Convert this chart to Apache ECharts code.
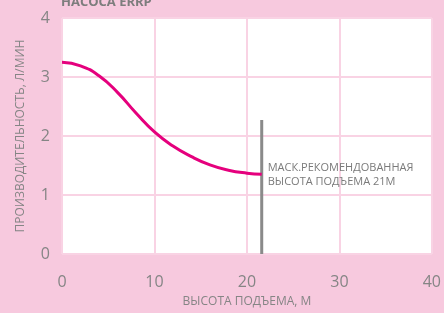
<!DOCTYPE html>
<html><head><meta charset="utf-8">
<script src="https://cdn.jsdelivr.net/npm/echarts@6/dist/echarts.min.js"></script>
<style>html,body{margin:0;padding:0;background:#f7c9de}#c{width:444px;height:313px}</style>
</head><body><div id="c"></div>
<script>
const heights = [0, 2, 4, 6, 8, 10, 12, 14, 16, 18, 20, 21.6];
const flow = [3.25, 3.19, 3.02, 2.74, 2.39, 2.07, 1.83, 1.65, 1.51, 1.42, 1.37, 1.35];
const maxHeight = 21.6;
const markerTop = 2.27;
const titleText = 'НАСОСА ERRP';
const xName = 'ВЫСОТА ПОДЪЕМА, М';
const yName = 'ПРОИЗВОДИТЕЛЬНОСТЬ, Л/МИН';
const noteText = 'МАСК.РЕКОМЕНДОВАННАЯ\nВЫСОТА ПОДЪЕМА 21М';

const chart = echarts.init(document.getElementById('c'));
const pink = '#f7c9de', grid = '#f9d3e4', gray = '#858585';
chart.setOption({
  backgroundColor: pink,
  animation: false,
  graphic: [{type:'text', left: 61, top: -4, style:{text: titleText, font:'bold 13px "Open Sans"', fill:'#7d7d7d'}}],
  grid: {left: 62, right: 10, top: 18, bottom: 55, show: true, backgroundColor:'#fff', borderWidth: 0},
  xAxis: {type:'value', min:0, max:40, interval:10,
    name: xName, nameLocation:'middle', nameGap: 42,
    nameTextStyle:{color:gray, fontSize:12, fontFamily:'Open Sans'},
    axisLine:{show:false}, axisTick:{show:false},
    axisLabel:{color:gray, fontSize:16, fontFamily:'Open Sans', margin:20},
    splitLine:{lineStyle:{color:grid, width:2}}},
  yAxis: {type:'value', min:0, max:4, interval:1,
    name: yName, nameLocation:'middle', nameGap: 35,
    nameTextStyle:{color:gray, fontSize:12, fontFamily:'Open Sans'},
    axisLine:{show:false}, axisTick:{show:false},
    axisLabel:{color:gray, fontSize:16, fontFamily:'Open Sans', margin:12},
    splitLine:{lineStyle:{color:grid, width:2}}},
  series: [
    {type:'line', data:[[maxHeight,0],[maxHeight,markerTop]], symbol:'none',
     lineStyle:{color:'#8a8a8a', width:3}, z:3},
    {type:'line', smooth:true, symbol:'none', z:4,
     data: heights.map((h,i)=>[h, flow[i]]),
     lineStyle:{color:'#e5007d', width:3},
     endLabel:{show:true, formatter: noteText, color:'#7a7a7a', fontSize:11,
       fontFamily:'Open Sans', lineHeight:14, distance:6, offset:[0,1]}}
  ]
});
</script></body></html>
